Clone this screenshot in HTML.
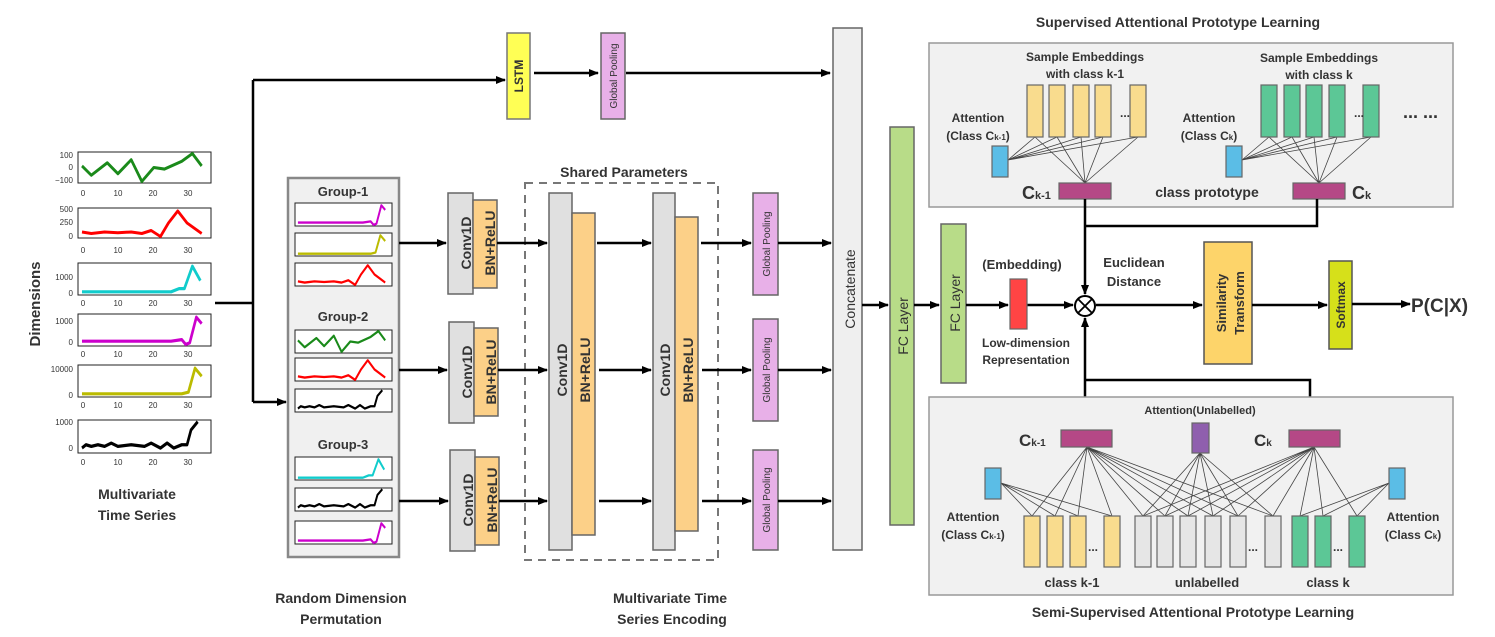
<!DOCTYPE html>
<html><head><meta charset="utf-8"><style>
html,body{margin:0;padding:0;background:#fff}
svg{display:block}
text{font-family:"Liberation Sans",Arial,sans-serif;font-weight:bold;fill:#333}
.t{font-weight:normal;font-size:8px;fill:#333}
.c{fill:none;stroke-width:2;vector-effect:non-scaling-stroke;stroke-linejoin:round}
.a{stroke:#000;stroke-width:2.5;fill:none}
.th{stroke:#444;stroke-width:0.8;fill:none}
</style></head><body>
<svg width="1495" height="637" viewBox="0 0 1495 637" xmlns="http://www.w3.org/2000/svg">
<defs>
<marker id="ar" markerWidth="10" markerHeight="8" refX="9" refY="4" orient="auto" markerUnits="userSpaceOnUse"><path d="M0,0 L10,4 L0,8 z" fill="#000"/></marker>
<path id="g" d="M3,9 L10,15 L22,7 L30,14 L40,5 L48,19 L57,10 L65,11 L78,6 L86,1 L93,9"/>
<path id="r" d="M3,16 L10,17 L20,16 L30,16.5 L40,16 L48,17 L55,15 L62,19 L68,10 L75,2 L82,10 L93,17"/>
<path id="cy" d="M3,18 L70,18 L76,16 L80,16 L86,2 L92,11"/>
<path id="m" d="M3,17 L20,17 L40,17 L70,17 L78,16 L81,19 L84,18 L89,2 L93,6"/>
<path id="y" d="M3,18 L78,18 L83,17 L88,2 L93,7"/>
<path id="k" d="M3,17 L6,15 L10,16 L15,15 L20,16 L25,14 L30,16 L40,15 L50,16 L55,14 L62,17 L67,14 L72,17 L78,15 L82,15 L85,6 L90,1"/>
</defs>

<g>
<rect x="78" y="152" width="133" height="31" fill="#fff" stroke="#222"/>
<use href="#g" class="c" stroke="#1a8a1a" transform="translate(78,152) scale(1.33,1.55)"/>
<text class="t" x="73" y="158" text-anchor="end">100</text><text class="t" x="73" y="170" text-anchor="end">0</text><text class="t" x="73" y="183" text-anchor="end">−100</text>
<rect x="78" y="208" width="133" height="30" fill="#fff" stroke="#222"/>
<use href="#r" class="c" stroke="#f00" transform="translate(78,208) scale(1.33,1.5)"/>
<text class="t" x="73" y="212" text-anchor="end">500</text><text class="t" x="73" y="225" text-anchor="end">250</text><text class="t" x="73" y="239" text-anchor="end">0</text>
<rect x="78" y="263" width="133" height="32" fill="#fff" stroke="#222"/>
<use href="#cy" class="c" stroke="#1cc" transform="translate(78,263) scale(1.33,1.6)"/>
<text class="t" x="73" y="280" text-anchor="end">1000</text><text class="t" x="73" y="296" text-anchor="end">0</text>
<rect x="78" y="314" width="133" height="32" fill="#fff" stroke="#222"/>
<use href="#m" class="c" stroke="#c0c" transform="translate(78,314) scale(1.33,1.6)"/>
<text class="t" x="73" y="324" text-anchor="end">1000</text><text class="t" x="73" y="345" text-anchor="end">0</text>
<rect x="78" y="365" width="133" height="32" fill="#fff" stroke="#222"/>
<use href="#y" class="c" stroke="#bb0" transform="translate(78,365) scale(1.33,1.6)"/>
<text class="t" x="73" y="372" text-anchor="end">10000</text><text class="t" x="73" y="398" text-anchor="end">0</text>
<rect x="78" y="420" width="133" height="33" fill="#fff" stroke="#222"/>
<use href="#k" class="c" stroke="#000" transform="translate(78,420) scale(1.33,1.65)"/>
<text class="t" x="73" y="425" text-anchor="end">1000</text><text class="t" x="73" y="451" text-anchor="end">0</text>
<g class="t">
<text class="t" x="83" y="196" text-anchor="middle">0</text><text class="t" x="118" y="196" text-anchor="middle">10</text><text class="t" x="153" y="196" text-anchor="middle">20</text><text class="t" x="188" y="196" text-anchor="middle">30</text>
<text class="t" x="83" y="253" text-anchor="middle">0</text><text class="t" x="118" y="253" text-anchor="middle">10</text><text class="t" x="153" y="253" text-anchor="middle">20</text><text class="t" x="188" y="253" text-anchor="middle">30</text>
<text class="t" x="83" y="306" text-anchor="middle">0</text><text class="t" x="118" y="306" text-anchor="middle">10</text><text class="t" x="153" y="306" text-anchor="middle">20</text><text class="t" x="188" y="306" text-anchor="middle">30</text>
<text class="t" x="83" y="357" text-anchor="middle">0</text><text class="t" x="118" y="357" text-anchor="middle">10</text><text class="t" x="153" y="357" text-anchor="middle">20</text><text class="t" x="188" y="357" text-anchor="middle">30</text>
<text class="t" x="83" y="408" text-anchor="middle">0</text><text class="t" x="118" y="408" text-anchor="middle">10</text><text class="t" x="153" y="408" text-anchor="middle">20</text><text class="t" x="188" y="408" text-anchor="middle">30</text>
<text class="t" x="83" y="465" text-anchor="middle">0</text><text class="t" x="118" y="465" text-anchor="middle">10</text><text class="t" x="153" y="465" text-anchor="middle">20</text><text class="t" x="188" y="465" text-anchor="middle">30</text>
</g>
<text x="40" y="304" font-size="15" text-anchor="middle" transform="rotate(-90 40 304)">Dimensions</text>
<text x="137" y="499" font-size="14" text-anchor="middle">Multivariate</text>
<text x="137" y="520" font-size="14" text-anchor="middle">Time Series</text>
</g>

<path class="a" d="M215,303 H253 M253,80 V402"/>
<path class="a" d="M253,80 H505" marker-end="url(#ar)"/>
<path class="a" d="M253,402 H286" marker-end="url(#ar)"/>

<rect x="288" y="178" width="111" height="379" fill="#f0f0f0" stroke="#888" stroke-width="2.5"/>
<text x="343" y="196" font-size="13" text-anchor="middle">Group-1</text>
<text x="343" y="321" font-size="13" text-anchor="middle">Group-2</text>
<text x="343" y="449" font-size="13" text-anchor="middle">Group-3</text>
<g fill="#fff" stroke="#222">
<rect x="295" y="203" width="97" height="23"/><rect x="295" y="233" width="97" height="23"/><rect x="295" y="263" width="97" height="23"/>
<rect x="295" y="330" width="97" height="23"/><rect x="295" y="358" width="97" height="23"/><rect x="295" y="389" width="97" height="23"/>
<rect x="295" y="457" width="97" height="23"/><rect x="295" y="488" width="97" height="23"/><rect x="295" y="521" width="97" height="23"/>
</g>
<use href="#m" class="c" stroke="#c0c" transform="translate(295,203) scale(0.97,1.15)"/>
<use href="#y" class="c" stroke="#bb0" transform="translate(295,233) scale(0.97,1.15)"/>
<use href="#r" class="c" stroke="#f00" transform="translate(295,263) scale(0.97,1.15)"/>
<use href="#g" class="c" stroke="#1a8a1a" transform="translate(295,330) scale(0.97,1.15)"/>
<use href="#r" class="c" stroke="#f00" transform="translate(295,358) scale(0.97,1.15)"/>
<use href="#k" class="c" stroke="#000" transform="translate(295,389) scale(0.97,1.15)"/>
<use href="#cy" class="c" stroke="#1cc" transform="translate(295,457) scale(0.97,1.15)"/>
<use href="#k" class="c" stroke="#000" transform="translate(295,488) scale(0.97,1.15)"/>
<use href="#m" class="c" stroke="#c0c" transform="translate(295,521) scale(0.97,1.15)"/>
<text x="341" y="603" font-size="14" text-anchor="middle">Random Dimension</text>
<text x="341" y="624" font-size="14" text-anchor="middle">Permutation</text>

<rect x="507" y="33" width="23" height="86" fill="#ffff55" stroke="#777" stroke-width="1.5"/>
<text x="523" y="76" font-size="12" text-anchor="middle" transform="rotate(-90 523 76)">LSTM</text>
<path class="a" d="M534,73 H598" marker-end="url(#ar)"/>
<rect x="601" y="33" width="24" height="86" fill="#e8b0e8" stroke="#666" stroke-width="1.5"/>
<text x="617" y="76" font-size="10" text-anchor="middle" transform="rotate(-90 617 76)" style="font-weight:normal">Global Pooling</text>
<path class="a" d="M626,73 H830" stroke-width="3" marker-end="url(#ar)"/>

<g stroke="#666" stroke-width="1.5">
<rect x="448" y="193" width="25" height="101" fill="#e0e0e0"/><rect x="473" y="200" width="24" height="88" fill="#fcd088"/>
<rect x="449" y="322" width="25" height="101" fill="#e0e0e0"/><rect x="474" y="328" width="24" height="88" fill="#fcd088"/>
<rect x="450" y="450" width="25" height="101" fill="#e0e0e0"/><rect x="475" y="457" width="24" height="88" fill="#fcd088"/>
<rect x="549" y="193" width="23" height="357" fill="#e0e0e0"/><rect x="572" y="213" width="23" height="322" fill="#fcd088"/>
<rect x="653" y="193" width="22" height="357" fill="#e0e0e0"/><rect x="675" y="217" width="23" height="314" fill="#fcd088"/>
<rect x="753" y="193" width="25" height="102" fill="#e8b0e8"/>
<rect x="753" y="319" width="25" height="102" fill="#e8b0e8"/>
<rect x="753" y="450" width="25" height="100" fill="#e8b0e8"/>
<rect x="833" y="28" width="29" height="522" fill="#efefef"/>
<rect x="890" y="127" width="24" height="398" fill="#b8dc88"/>
<rect x="941" y="224" width="25" height="159" fill="#b8dc88"/>
</g>
<rect x="525" y="183" width="193" height="377" fill="none" stroke="#777" stroke-width="2" stroke-dasharray="8,6"/>
<text x="624" y="177" font-size="14" text-anchor="middle">Shared Parameters</text>
<g font-size="14">
<text x="466" y="243" text-anchor="middle" transform="rotate(-90 466 243)" dy="5">Conv1D</text>
<text x="490" y="243" text-anchor="middle" transform="rotate(-90 490 243)" dy="5">BN+ReLU</text>
<text x="467" y="372" text-anchor="middle" transform="rotate(-90 467 372)" dy="5">Conv1D</text>
<text x="491" y="372" text-anchor="middle" transform="rotate(-90 491 372)" dy="5">BN+ReLU</text>
<text x="468" y="500" text-anchor="middle" transform="rotate(-90 468 500)" dy="5">Conv1D</text>
<text x="492" y="500" text-anchor="middle" transform="rotate(-90 492 500)" dy="5">BN+ReLU</text>
<text x="562" y="370" text-anchor="middle" transform="rotate(-90 562 370)" dy="5">Conv1D</text>
<text x="585" y="370" text-anchor="middle" transform="rotate(-90 585 370)" dy="5">BN+ReLU</text>
<text x="665" y="370" text-anchor="middle" transform="rotate(-90 665 370)" dy="5">Conv1D</text>
<text x="688" y="370" text-anchor="middle" transform="rotate(-90 688 370)" dy="5">BN+ReLU</text>
<text x="850" y="289" text-anchor="middle" transform="rotate(-90 850 289)" dy="5" style="font-weight:normal">Concatenate</text>
<text x="903" y="326" text-anchor="middle" transform="rotate(-90 903 326)" dy="5" style="font-weight:normal">FC Layer</text>
<text x="955" y="303" text-anchor="middle" transform="rotate(-90 955 303)" dy="5" style="font-weight:normal">FC Layer</text>
</g>
<g font-size="10">
<text x="766" y="244" text-anchor="middle" transform="rotate(-90 766 244)" dy="4" style="font-weight:normal">Global Pooling</text>
<text x="766" y="370" text-anchor="middle" transform="rotate(-90 766 370)" dy="4" style="font-weight:normal">Global Pooling</text>
<text x="766" y="500" text-anchor="middle" transform="rotate(-90 766 500)" dy="4" style="font-weight:normal">Global Pooling</text>
</g>
<g>
<path class="a" d="M399,243 H446" marker-end="url(#ar)"/><path class="a" d="M399,370 H447" marker-end="url(#ar)"/><path class="a" d="M399,501 H448" marker-end="url(#ar)"/>
<path class="a" d="M497,243 H547" marker-end="url(#ar)"/><path class="a" d="M498,370 H547" marker-end="url(#ar)"/><path class="a" d="M499,501 H547" marker-end="url(#ar)"/>
<path class="a" d="M597,243 H651" marker-end="url(#ar)"/><path class="a" d="M599,370 H651" marker-end="url(#ar)"/><path class="a" d="M599,501 H651" marker-end="url(#ar)"/>
<path class="a" d="M701,243 H751" marker-end="url(#ar)"/><path class="a" d="M702,370 H751" marker-end="url(#ar)"/><path class="a" d="M702,501 H751" marker-end="url(#ar)"/>
<path class="a" d="M778,243 H831" marker-end="url(#ar)"/><path class="a" d="M778,370 H831" marker-end="url(#ar)"/><path class="a" d="M778,501 H831" marker-end="url(#ar)"/>
<path class="a" d="M862,305 H888" marker-end="url(#ar)"/>
<path class="a" d="M914,305 H939" marker-end="url(#ar)"/>
<path class="a" d="M966,305 H1008" marker-end="url(#ar)"/>
<path class="a" d="M1027,305 H1073" marker-end="url(#ar)"/>
</g>
<text x="670" y="603" font-size="14" text-anchor="middle">Multivariate Time</text>
<text x="672" y="624" font-size="14" text-anchor="middle">Series Encoding</text>

<text x="1178" y="27" font-size="14" text-anchor="middle">Supervised Attentional Prototype Learning</text>
<rect x="929" y="43" width="524" height="164" fill="#f1f1f1" stroke="#999" stroke-width="1.5"/>
<g font-size="12">
<text x="1085" y="61" text-anchor="middle">Sample Embeddings</text>
<text x="1085" y="78" text-anchor="middle">with class k-1</text>
<text x="1319" y="62" text-anchor="middle">Sample Embeddings</text>
<text x="1319" y="79" text-anchor="middle">with class k</text>
</g>
<g font-size="12">
<text x="978" y="122" text-anchor="middle">Attention</text>
<text x="978" y="140" text-anchor="middle">(Class C<tspan font-size="8">k-1</tspan>)</text>
<text x="1209" y="122" text-anchor="middle">Attention</text>
<text x="1209" y="140" text-anchor="middle">(Class C<tspan font-size="8">k</tspan>)</text>
<text x="1207" y="197" text-anchor="middle" font-size="14">class prototype</text>
</g>
<text x="1022" y="199" font-size="18">C<tspan font-size="11">k-1</tspan></text>
<text x="1352" y="199" font-size="18">C<tspan font-size="11">k</tspan></text>
<g class="th">
<path d="M1085,183 L1035,137 M1085,183 L1057,137 M1085,183 L1081,137 M1085,183 L1103,137 M1085,183 L1138,137"/>
<path d="M1008,160 L1035,137 M1008,160 L1057,137 M1008,160 L1081,137 M1008,160 L1103,137 M1008,160 L1138,137"/>
<path d="M1319,183 L1269,137 M1319,183 L1292,137 M1319,183 L1314,137 M1319,183 L1337,137 M1319,183 L1371,137"/>
<path d="M1242,160 L1269,137 M1242,160 L1292,137 M1242,160 L1314,137 M1242,160 L1337,137 M1242,160 L1371,137"/>
</g>
<g stroke="#666" stroke-width="1.2">
<rect x="1027" y="85" width="16" height="52" fill="#f9dc8e"/><rect x="1049" y="85" width="16" height="52" fill="#f9dc8e"/><rect x="1073" y="85" width="16" height="52" fill="#f9dc8e"/><rect x="1095" y="85" width="16" height="52" fill="#f9dc8e"/><rect x="1130" y="85" width="16" height="52" fill="#f9dc8e"/>
<rect x="1261" y="85" width="16" height="52" fill="#5cc796"/><rect x="1284" y="85" width="16" height="52" fill="#5cc796"/><rect x="1306" y="85" width="16" height="52" fill="#5cc796"/><rect x="1329" y="85" width="16" height="52" fill="#5cc796"/><rect x="1363" y="85" width="16" height="52" fill="#5cc796"/>
<rect x="992" y="146" width="16" height="31" fill="#5bbde6"/><rect x="1226" y="146" width="16" height="31" fill="#5bbde6"/>
<rect x="1059" y="183" width="52" height="16" fill="#b54886"/><rect x="1293" y="183" width="52" height="16" fill="#b54886"/>
</g>
<text x="1120" y="117" font-size="12">...</text><text x="1354" y="117" font-size="12">...</text>
<text x="1403" y="118" font-size="18" fill="#222">... ...</text>

<path class="a" d="M1317,199 V226 H1085" stroke-width="3"/>
<path class="a" d="M1085,199 V294" stroke-width="3.5" marker-end="url(#ar)"/>
<path class="a" d="M1310,430 V380 H1085" stroke-width="3"/>
<path class="a" d="M1085,430 V318" stroke-width="3.5" marker-end="url(#ar)"/>
<circle cx="1085" cy="306" r="10" fill="#fff" stroke="#000" stroke-width="2"/>
<path d="M1078,299 L1092,313 M1092,299 L1078,313" stroke="#000" stroke-width="1.8"/>

<rect x="1010" y="279" width="17" height="50" fill="#f44" stroke="#666" stroke-width="1.2"/>
<g font-size="12">
<text x="1022" y="269" text-anchor="middle" font-size="13">(Embedding)</text>
<text x="1026" y="347" text-anchor="middle">Low-dimension</text>
<text x="1026" y="364" text-anchor="middle">Representation</text>
<text x="1134" y="267" text-anchor="middle" font-size="13">Euclidean</text>
<text x="1134" y="286" text-anchor="middle" font-size="13">Distance</text>
</g>
<path class="a" d="M1096,305 H1202" marker-end="url(#ar)"/>
<rect x="1204" y="242" width="48" height="122" fill="#fdd46a" stroke="#555" stroke-width="1.5"/>
<text x="1222" y="303" font-size="13" text-anchor="middle" transform="rotate(-90 1222 303)" dy="4">Similarity</text>
<text x="1240" y="303" font-size="13" text-anchor="middle" transform="rotate(-90 1240 303)" dy="4">Transform</text>
<path class="a" d="M1252,305 H1327" stroke-width="2" marker-end="url(#ar)"/>
<rect x="1329" y="261" width="23" height="88" fill="#d6e01a" stroke="#555" stroke-width="1.5"/>
<text x="1341" y="305" font-size="12" text-anchor="middle" transform="rotate(-90 1341 305)" dy="4">Softmax</text>
<path class="a" d="M1352,304 H1410" stroke-width="3" marker-end="url(#ar)"/>
<text x="1411" y="312" font-size="19" fill="#222">P(C|X)</text>

<rect x="929" y="397" width="524" height="198" fill="#f1f1f1" stroke="#999" stroke-width="1.5"/>
<text x="1193" y="617" font-size="14" text-anchor="middle">Semi-Supervised Attentional Prototype Learning</text>
<text x="1200" y="414" font-size="11" text-anchor="middle">Attention(Unlabelled)</text>
<text x="1019" y="446" font-size="17">C<tspan font-size="10">k-1</tspan></text>
<text x="1254" y="446" font-size="17">C<tspan font-size="10">k</tspan></text>
<g font-size="12">
<text x="973" y="521" text-anchor="middle">Attention</text>
<text x="973" y="539" text-anchor="middle">(Class C<tspan font-size="8">k-1</tspan>)</text>
<text x="1413" y="521" text-anchor="middle">Attention</text>
<text x="1413" y="539" text-anchor="middle">(Class C<tspan font-size="8">k</tspan>)</text>
<text x="1072" y="587" text-anchor="middle" font-size="13">class k-1</text>
<text x="1207" y="587" text-anchor="middle" font-size="13">unlabelled</text>
<text x="1328" y="587" text-anchor="middle" font-size="13">class k</text>
</g>
<g class="th">
<path d="M1087,447 L1032,516 M1087,447 L1055,516 M1087,447 L1078,516 M1087,447 L1112,516 M1087,447 L1143,516 M1087,447 L1165,516 M1087,447 L1188,516 M1087,447 L1213,516 M1087,447 L1238,516 M1087,447 L1273,516"/>
<path d="M1200,453 L1143,516 M1200,453 L1165,516 M1200,453 L1188,516 M1200,453 L1213,516 M1200,453 L1238,516 M1200,453 L1273,516"/>
<path d="M1314,447 L1143,516 M1314,447 L1165,516 M1314,447 L1188,516 M1314,447 L1213,516 M1314,447 L1238,516 M1314,447 L1273,516 M1314,447 L1300,516 M1314,447 L1323,516 M1314,447 L1357,516"/>
<path d="M1001,483 L1032,516 M1001,483 L1055,516 M1001,483 L1078,516 M1001,483 L1112,516"/>
<path d="M1389,483 L1300,516 M1389,483 L1323,516 M1389,483 L1357,516"/>
</g>
<g stroke="#666" stroke-width="1.2">
<rect x="1024" y="516" width="16" height="51" fill="#f9dc8e"/><rect x="1047" y="516" width="16" height="51" fill="#f9dc8e"/><rect x="1070" y="516" width="16" height="51" fill="#f9dc8e"/><rect x="1104" y="516" width="16" height="51" fill="#f9dc8e"/>
<rect x="1135" y="516" width="16" height="51" fill="#e6e6e6"/><rect x="1157" y="516" width="16" height="51" fill="#e6e6e6"/><rect x="1180" y="516" width="16" height="51" fill="#e6e6e6"/><rect x="1205" y="516" width="16" height="51" fill="#e6e6e6"/><rect x="1230" y="516" width="16" height="51" fill="#e6e6e6"/><rect x="1265" y="516" width="16" height="51" fill="#e6e6e6"/>
<rect x="1292" y="516" width="16" height="51" fill="#5cc796"/><rect x="1315" y="516" width="16" height="51" fill="#5cc796"/><rect x="1349" y="516" width="16" height="51" fill="#5cc796"/>
<rect x="985" y="468" width="16" height="31" fill="#5bbde6"/><rect x="1389" y="468" width="16" height="31" fill="#5bbde6"/>
<rect x="1192" y="423" width="17" height="30" fill="#8f5fae"/>
<rect x="1061" y="430" width="51" height="17" fill="#b54886"/><rect x="1289" y="430" width="51" height="17" fill="#b54886"/>
</g>
<text x="1088" y="551" font-size="12">...</text><text x="1248" y="551" font-size="12">...</text><text x="1333" y="551" font-size="12">...</text>
</svg>
</body></html>
